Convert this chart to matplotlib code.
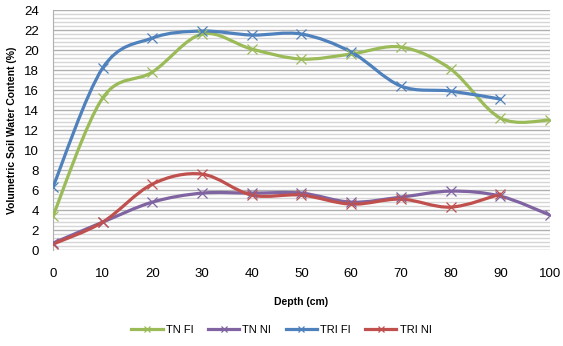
import numpy as np
import matplotlib
matplotlib.use("Agg")
import matplotlib.pyplot as plt
from matplotlib.path import Path
from matplotlib.patches import PathPatch
from matplotlib.lines import Line2D
from matplotlib.ticker import MultipleLocator

plt.rcParams["font.family"] = ["Liberation Sans", "DejaVu Sans"]

# depth (cm)
depth = [0, 10, 20, 30, 40, 50, 60, 70, 80, 90, 100]

tn_fi = [3.4, 15.2, 17.8, 21.6, 20.1, 19.1, 19.6, 20.3, 18.1, 13.2, 13.0]
tn_ni = [0.7, 2.8, 4.8, 5.7, 5.7, 5.7, 4.8, 5.3, 5.9, 5.4, 3.5]
tri_fi = [6.3, 18.2, 21.2, 21.9, 21.5, 21.6, 19.8, 16.4, 15.9, 15.1]
tri_ni = [0.6, 2.8, 6.6, 7.6, 5.5, 5.5, 4.6, 5.1, 4.3, 5.6]

series = [
    ("TN FI", tn_fi, "#9BBB59"),
    ("TN NI", tn_ni, "#8064A2"),
    ("TRI FI", tri_fi, "#4F81BD"),
    ("TRI NI", tri_ni, "#C0504D"),
]


def smooth_path(xs, ys):
    # excel-like smoothed line: cubic bezier through every point
    pts = np.column_stack([xs, ys]).astype(float)
    verts = [pts[0]]
    codes = [Path.MOVETO]
    n = len(pts)
    for i in range(n - 1):
        p0 = pts[i - 1] if i > 0 else pts[i]
        p1 = pts[i]
        p2 = pts[i + 1]
        p3 = pts[i + 2] if i + 2 < n else pts[i + 1]
        c1 = p1 + (p2 - p0) / 6.0
        c2 = p2 - (p3 - p1) / 6.0
        verts += [c1, c2, p2]
        codes += [Path.CURVE4] * 3
    return Path(verts, codes)


fig = plt.figure(figsize=(5.63, 3.46), dpi=100)
ax = fig.add_axes([0.094, 0.277, 0.883, 0.694])

handles = []
for name, vals, col in series:
    xs = depth[:len(vals)]
    ax.add_patch(PathPatch(smooth_path(xs, vals), fill=False, edgecolor=col,
                           lw=2.3, capstyle="round", joinstyle="round", zorder=3))
    ax.plot(xs, vals, linestyle="none", marker="x", ms=7, mew=0.9, color=col, zorder=4)
    handles.append(Line2D([], [], color=col, lw=2.3, marker="x", ms=5, mew=0.9))

ax.set_xlim(0, 100)
ax.set_ylim(0, 24)
ax.xaxis.set_major_locator(MultipleLocator(10))
ax.yaxis.set_major_locator(MultipleLocator(2))
ax.yaxis.set_minor_locator(MultipleLocator(0.4))
ax.grid(True, axis="y", which="major", color="#b0b0b0", lw=1.0)
ax.grid(True, axis="y", which="minor", color="#d6d6d6", lw=1.0)
ax.set_axisbelow(True)
for s in ["top", "right", "bottom"]:
    ax.spines[s].set_visible(False)
ax.spines["left"].set_color("#b0b0b0")
ax.tick_params(axis="both", which="both", length=0, labelsize=9.5)
ax.tick_params(axis="x", pad=13)
ax.tick_params(axis="y", pad=10)

ax.set_xlabel("Depth (cm)", fontsize=7.5, fontweight="bold", labelpad=12)
ax.set_ylabel("Volumetric Soil Water Content (%)", fontsize=7.5, fontweight="bold", labelpad=5)

fig.legend(handles, [s[0] for s in series], loc="center", bbox_to_anchor=(0.5, 0.047),
           ncol=4, frameon=False, fontsize=8, handlelength=2.8, columnspacing=1.3,
           handletextpad=0.3)

fig.savefig("out.png", dpi=100)
